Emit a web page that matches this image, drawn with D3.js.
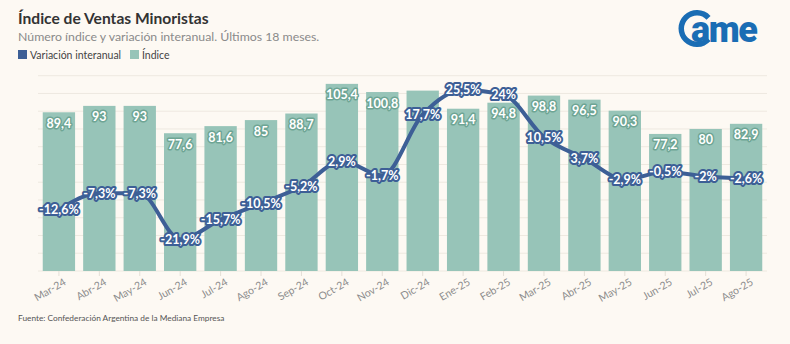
<!DOCTYPE html>
<html>
<head>
<meta charset="utf-8">
<script src="https://cdn.jsdelivr.net/npm/d3@7"></script>
<style>
  html, body { margin: 0; padding: 0; background: #fdf9f3; }
  svg { display: block; font-family: Lato, 'Noto Sans', sans-serif; }
</style>
</head>
<body>
<div class="chart"></div>
<script>
const months = ['Mar-24', 'Abr-24', 'May-24', 'Jun-24', 'Jul-24', 'Ago-24', 'Sep-24', 'Oct-24', 'Nov-24',
  'Dic-24', 'Ene-25', 'Feb-25', 'Mar-25', 'Abr-25', 'May-25', 'Jun-25', 'Jul-25', 'Ago-25'];
const indice = [89.4, 93, 93, 77.6, 81.6, 85, 88.7, 105.4, 100.8, 101.6, 91.4, 94.8, 98.8, 96.5, 90.3, 77.2, 80, 82.9];
// the Dic-24 bar label is hidden under the line label in the original
const indiceLabelShown = months.map((m) => m !== 'Dic-24');
const variacion = [-12.6, -7.3, -7.3, -21.9, -15.7, -10.5, -5.2, 2.9, -1.7, 17.7, 25.5, 24, 10.5, 3.7, -2.9, -0.5, -2, -2.6];
const gridValues = d3.range(0, 111, 10);

const width = 790;
const height = 344;
const barColor = '#97c4b8';
const lineColor = '#3d5f96';

const fmt = (v) => String(v).replace('.', ',');

const svg = d3.select('div.chart')
  .append('svg')
  .attr('width', width)
  .attr('height', height);

svg.append('rect').attr('width', width).attr('height', height).attr('fill', '#fdf9f3');

// header
svg.append('text')
  .attr('x', 18).attr('y', 24)
  .attr('font-size', 15.6).attr('font-weight', 700).attr('fill', '#333')
  .text('Índice de Ventas Minoristas');

svg.append('text')
  .attr('x', 18).attr('y', 41)
  .attr('font-size', 12.3).attr('fill', '#8a8a8a')
  .text('Número índice y variación interanual. Últimos 18 meses.');

const legend = [
  { label: 'Variación interanual', color: lineColor, x: 18 },
  { label: 'Índice', color: barColor, x: 130 },
];
const lg = svg.selectAll('g.legend').data(legend).enter().append('g')
  .attr('class', 'legend')
  .attr('transform', (d) => `translate(${d.x},50)`);
lg.append('rect').attr('width', 9).attr('height', 9).attr('fill', (d) => d.color);
lg.append('text').attr('x', 12).attr('y', 8.5)
  .attr('font-size', 10.5).attr('fill', '#444')
  .text((d) => d.label);

// logo
const logo = svg.append('g').attr('transform', 'translate(697,28.5)').attr('fill', '#1a6db4');
logo.append('path')
  .attr('d', d3.arc().innerRadius(13).outerRadius(18.5)
    .startAngle(Math.PI / 2 + 0.75).endAngle(Math.PI / 2 + 2 * Math.PI - 0.75)());
logo.append('text')
  .attr('x', -6).attr('y', 13)
  .attr('font-size', 36).attr('font-weight', 900).attr('letter-spacing', -1.5)
  .attr('font-family', 'Roboto, sans-serif')
  .text('ame');

// scales
const x = d3.scaleBand().domain(months).range([38.7, 766.3]).paddingInner(0.2).paddingOuter(0.1);
const y = d3.scaleLinear().domain([0, 110]).range([271, 75.7]);
const yPct = d3.scaleLinear().domain([-32, 30]).range([271, 75.7]);

// gridlines
svg.append('g')
  .selectAll('line')
  .data(gridValues)
  .enter()
  .append('line')
  .attr('x1', 38).attr('x2', 767)
  .attr('y1', (d) => y(d)).attr('y2', (d) => y(d))
  .attr('stroke', '#eee9e0').attr('stroke-width', 1);

// x axis
const xAxis = svg.append('g')
  .attr('transform', `translate(0,${y(0)})`)
  .call(d3.axisBottom(x).tickSize(5).tickSizeOuter(0));
xAxis.select('.domain').remove();
xAxis.selectAll('.tick line').attr('stroke', '#e4dfd6');
xAxis.selectAll('.tick text')
  .attr('font-family', 'Lato, sans-serif')
  .attr('font-size', 10.5)
  .attr('fill', '#8c8c8c')
  .attr('text-anchor', 'end')
  .attr('transform', 'translate(6,10) rotate(-30)')
  .attr('dy', '0.35em')
  .attr('y', 0);

// bars
svg.append('g')
  .selectAll('rect')
  .data(months)
  .enter()
  .append('rect')
  .attr('x', (d) => x(d))
  .attr('y', (d, i) => y(indice[i]))
  .attr('width', x.bandwidth())
  .attr('height', (d, i) => y(0) - y(indice[i]))
  .attr('fill', barColor);

svg.append('g')
  .selectAll('text')
  .data(months.filter((d, i) => indiceLabelShown[i]))
  .enter()
  .append('text')
  .attr('x', (d) => x(d) + x.bandwidth() / 2)
  .attr('y', (d) => y(indice[months.indexOf(d)]) + 15.5)
  .attr('text-anchor', 'middle')
  .attr('font-size', 12.5).attr('font-weight', 700)
  .attr('fill', '#fff')
  .attr('stroke', '#6ea594').attr('stroke-width', 3).attr('stroke-linejoin', 'round')
  .attr('paint-order', 'stroke')
  .text((d) => fmt(indice[months.indexOf(d)]));

// line
const line = d3.line()
  .x((d, i) => x(months[i]) + x.bandwidth() / 2)
  .y((d) => yPct(d))
  .curve(d3.curveMonotoneX);

svg.append('path')
  .datum(variacion)
  .attr('d', line)
  .attr('fill', 'none')
  .attr('stroke', lineColor)
  .attr('stroke-width', 4)
  .attr('stroke-linejoin', 'round');

svg.append('g')
  .selectAll('text')
  .data(variacion)
  .enter()
  .append('text')
  .attr('x', (d, i) => x(months[i]) + x.bandwidth() / 2)
  .attr('y', (d) => yPct(d) + 4.5)
  .attr('text-anchor', 'middle')
  .attr('font-size', 12.5).attr('font-weight', 700)
  .attr('fill', '#fff')
  .attr('stroke', lineColor).attr('stroke-width', 4).attr('stroke-linejoin', 'round')
  .attr('paint-order', 'stroke')
  .text((d) => fmt(d) + '%');

// footer
svg.append('text')
  .attr('x', 18).attr('y', 321)
  .attr('font-size', 8.3).attr('fill', '#555')
  .text('Fuente: Confederación Argentina de la Mediana Empresa');
</script>
</body>
</html>
